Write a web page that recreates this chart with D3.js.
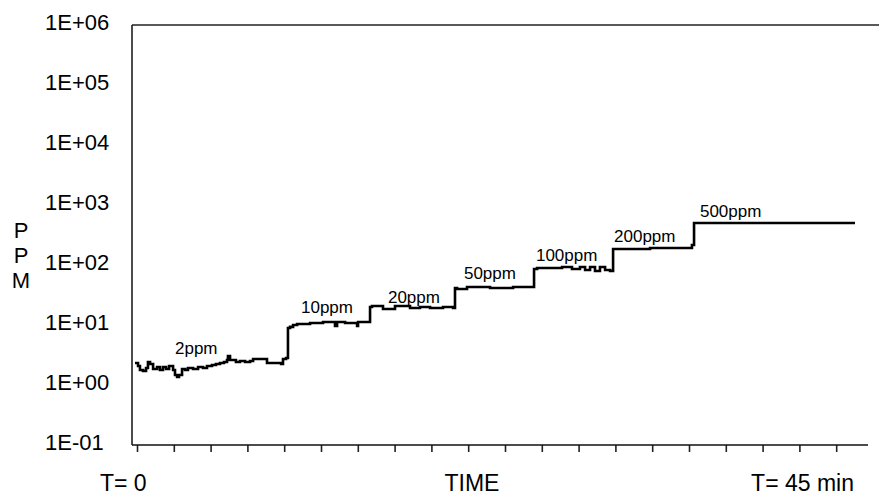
<!DOCTYPE html>
<html>
<head>
<meta charset="utf-8">
<script src="https://cdn.jsdelivr.net/npm/d3@7"></script>
<style>
  body { margin: 0; background: #fff; }
  svg { display: block; }
  text { font-family: "Liberation Sans", Arial, sans-serif; fill: #000; }
</style>
</head>
<body>
<svg id="chart" width="884" height="496"></svg>
<script>
// ---- data ----
// time in minutes
const times = [0, 0.19, 0.31, 0.5, 0.69, 0.81, 0.94, 1.13, 1.38, 1.56, 1.75, 1.94, 2.13, 2.38, 2.5, 2.63, 2.75, 2.94,
  3.13, 3.31, 3.63, 3.94, 4.25, 4.5, 4.81, 5.06, 5.31, 5.56, 5.75, 5.81, 5.94, 6.31, 6.56, 6.88, 7.19, 7.38, 7.81,
  8.25, 8.75, 9.13, 9.25, 9.44, 9.56, 9.69, 9.88, 10.13, 10.94, 11.75, 12.38, 12.5, 12.63, 13.13, 13.88, 13.94,
  14.56, 14.69, 14.81, 15.5, 16.25, 17.19, 17.81, 18.44, 19.25, 19.88, 20, 20.13, 20.75, 22.19, 23.63, 24.81,
  24.94, 25.13, 26.69, 27.31, 27.81, 28.13, 28.44, 28.75, 29.06, 29.38, 29.69, 29.88, 30, 32.19, 34.56, 34.81,
  34.94, 35.13, 45];
// concentration in ppm
const ppm = [2.33, 2.07, 1.78, 1.71, 1.92, 2.42, 2.24, 1.85, 2.0, 1.78, 2.0, 1.85, 2.07, 1.78, 1.47, 1.36, 1.47, 1.85,
  1.78, 1.92, 1.85, 2.0, 1.92, 2.07, 2.15, 2.24, 2.33, 2.42, 2.61, 3.04, 2.61, 2.42, 2.51, 2.42, 2.51, 2.71, 2.71,
  2.33, 2.33, 2.24, 2.71, 2.82, 8.9, 9.3, 10, 10.4, 10.8, 11.2, 11.2, 9.6, 11.2, 10.8, 9.6, 11.2,
  11.2, 20, 20.7, 18.5, 20.7, 19.2, 20, 19.2, 20, 19.2, 41.4, 39.8, 43, 41.4, 43, 43,
  85.8, 89, 92.6, 85.8, 92.6, 82.5, 92.6, 79.4, 92.6, 82.5, 79.4, 185, 185, 192, 192, 215,
  501, 501, 501];

const yTickValues = [1e-1, 1e0, 1e1, 1e2, 1e3, 1e4, 1e5, 1e6];
const yTickLabels = ["1E-01", "1E+00", "1E+01", "1E+02", "1E+03", "1E+04", "1E+05", "1E+06"];

const annoLabels = ["2ppm", "10ppm", "20ppm", "50ppm", "100ppm", "200ppm", "500ppm"];
const annoTimes  = [2.5, 10.375, 15.81, 20.56, 25.06, 29.94, 35.31];
const annoPpm    = [3.29, 15.8, 23.3, 58.4, 116.6, 241, 631];

const xStartLabel = "T= 0";
const xMidLabel = "TIME";
const xEndLabel = "T= 45 min";
const yTitle = ["P", "P", "M"];

// ---- layout ----
const svg = d3.select("#chart");
const pLeft = 132, pTop = 25, pBottom = 445, axisRight = 868, borderRight = 879;

const x = d3.scaleLinear().domain([0, 45]).range([135, 855]);
const y = d3.scaleLog().domain([1e-1, 1e6]).range([pBottom, pTop]);

// top border
svg.append("line").attr("x1", pLeft).attr("x2", borderRight).attr("y1", pTop).attr("y2", pTop)
  .attr("stroke", "#222").attr("stroke-width", 1.5);
// left axis line
svg.append("line").attr("x1", pLeft).attr("x2", pLeft).attr("y1", pTop).attr("y2", pBottom)
  .attr("stroke", "#111").attr("stroke-width", 1.5);

// x axis
const xTicks = d3.range(0.125, 45, 2.3);
const xAxis = d3.axisBottom(x).tickValues(xTicks).tickSize(7).tickFormat("").tickSizeOuter(0);
const gx = svg.append("g").attr("transform", `translate(0,${pBottom})`).call(xAxis);
gx.select(".domain").remove();
gx.selectAll(".tick line").attr("stroke", "#222").attr("stroke-width", 1.6);
svg.append("line").attr("x1", pLeft).attr("x2", axisRight).attr("y1", pBottom).attr("y2", pBottom)
  .attr("stroke", "#111").attr("stroke-width", 1.5);

// y labels (left-aligned)
svg.append("g").selectAll("text").data(yTickValues).join("text")
  .attr("x", 45).attr("y", d => y(d) + 5)
  .attr("font-size", 22)
  .text((d, i) => yTickLabels[i]);

// y title (stacked letters)
svg.append("g").selectAll("text").data(yTitle).join("text")
  .attr("x", 21).attr("y", (d, i) => 238 + i * 25)
  .attr("text-anchor", "middle").attr("font-size", 22)
  .text(d => d);

// bottom labels
svg.append("text").attr("x", 100).attr("y", 491).attr("font-size", 23).text(xStartLabel);
svg.append("text").attr("x", 472).attr("y", 491).attr("font-size", 23).attr("text-anchor", "middle").text(xMidLabel);
svg.append("text").attr("x", 854).attr("y", 491).attr("font-size", 23).attr("text-anchor", "end").text(xEndLabel);

// line
const pts = times.map((t, i) => [t, ppm[i]]);
const line = d3.line().x(d => x(d[0])).y(d => y(d[1])).curve(d3.curveStepAfter);
svg.append("path").datum(pts).attr("d", line)
  .attr("fill", "none").attr("stroke", "#000").attr("stroke-width", 2.6);

// annotations
svg.append("g").selectAll("text").data(annoLabels).join("text")
  .attr("x", (d, i) => x(annoTimes[i]))
  .attr("y", (d, i) => y(annoPpm[i]))
  .attr("font-size", 17)
  .text(d => d);
</script>
</body>
</html>
